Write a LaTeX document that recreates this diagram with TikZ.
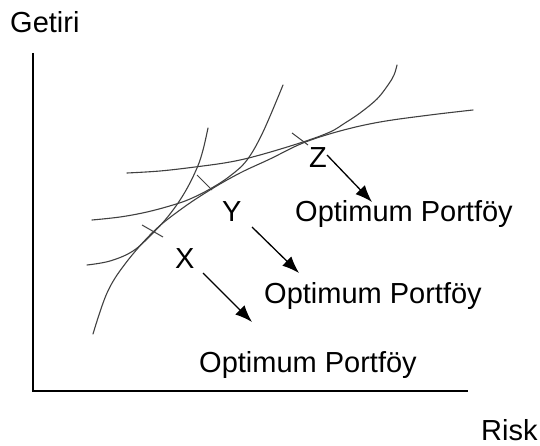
\documentclass[tikz,border=0pt]{standalone}
\usepackage{fontspec}
\setmainfont{Liberation Sans}
\usepackage{tikz}
\usetikzlibrary{
  arrows.meta,  % Latex 箭头样式
  positioning   % 节点相对定位
}
\tikzset{
  axis line/.style={
    line width=1.6pt,
    color=black
  },
  curve line/.style={
    line width=1.1pt,
    color=black!75,
    line cap=round
  },
  tick mark/.style={
    line width=1pt,
    color=black!75
  },
  point arrow/.style={
    -{Latex[length=17pt,width=13pt]},
    line width=1.3pt,
    color=black
  },
  big text/.style={
    font=\fontsize{29}{34}\selectfont,
    inner sep=0pt,
    anchor=base west
  }
}

\begin{document}
\begin{tikzpicture}[x=1pt, y=-1pt]
    \useasboundingbox (0,0) rectangle (540,446);

    % --- 坐标轴 ---
    \coordinate (O) at (33,391);
    \coordinate (Ytop) at (33,53);
    \coordinate (Xend) at (468,391);
    \draw[axis line] (Ytop) -- (O) -- (Xend);
    \node[big text] (getiri) at (10,33) {Getiri};
    \node[big text] (risk) at (481,440) {Risk};

    % --- 有效边界 (凹曲线) ---
    \draw[curve line] plot[smooth, tension=0.6] coordinates {
      (93,334) (107,293) (125,264) (153,232) (180,210) (210,190)
      (240,173) (270,159) (303,143) (340,131) (380,122) (430,115) (473,110)};

    % --- 无差异曲线 (凸曲线) ---
    \draw[curve line] plot[smooth, tension=0.6] coordinates {
      (87,265) (110,261) (133,251) (153,233) (170,214) (185,192)
      (197,168) (203,150) (208,128)};
    \draw[curve line] plot[smooth, tension=0.6] coordinates {
      (92,220) (120,217) (147,212) (173,205) (190,199) (210,189)
      (230,176) (247,160) (263,132) (283,85)};
    \draw[curve line] plot[smooth, tension=0.6] coordinates {
      (127,173) (160,171) (195,167) (230,162) (260,155) (303,142)
      (330,132) (345,123) (360,113) (377,99) (388,85) (394,75) (397,65)};

    % 切点处的短标记
    \draw[tick mark] (142,225) -- (163,237);
    \draw[tick mark] (197,175) -- (212,190);
    \draw[tick mark] (292,133) -- (308,145);

    % --- 切点字母与文字 ---
    \node[big text] (labX) at (175,268) {X};
    \node[big text] (labY) at (222,222) {Y};
    \node[big text] (labZ) at (309,168) {Z};

    \node[big text] (optX) at (199,372) {Optimum Portföy};
    \node[big text] (optY) at (264,303) {Optimum Portföy};
    \node[big text] (optZ) at (295,222) {Optimum Portföy};

    % --- 箭头 ---
    \coordinate (xs) at (203,273);
    \coordinate (xe) at (252,322);
    \coordinate (ys) at (252,227);
    \coordinate (ye) at (299,273);
    \coordinate (zs) at (327,155);
    \coordinate (ze) at (372,202);
    \draw[point arrow] (xs) -- (xe);
    \draw[point arrow] (ys) -- (ye);
    \draw[point arrow] (zs) -- (ze);

\end{tikzpicture}
\end{document}
